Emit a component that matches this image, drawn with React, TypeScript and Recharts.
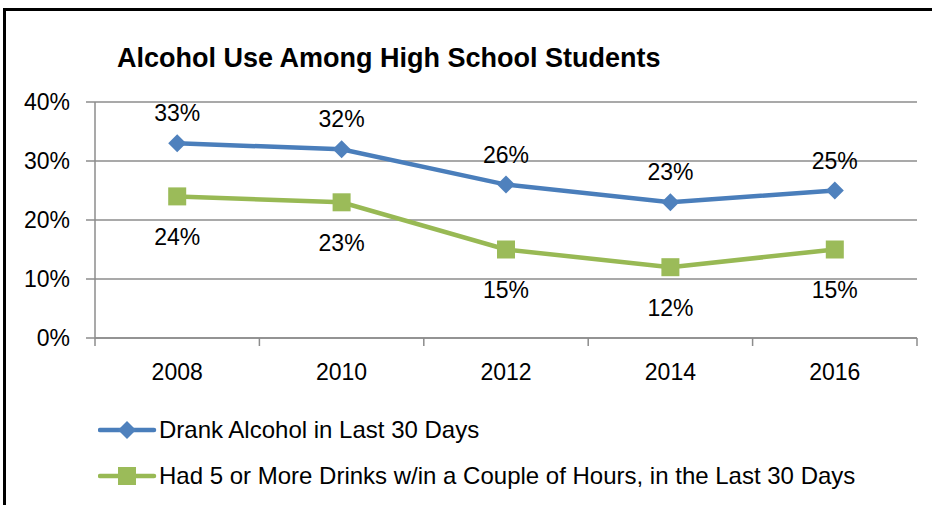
import React from 'react';
import { LineChart, Line, XAxis, YAxis, CartesianGrid, Legend, LabelList } from 'recharts';

const years = ['2008', '2010', '2012', '2014', '2016'];
const drankAlcohol = [0.33, 0.32, 0.26, 0.23, 0.25];
const fiveOrMore = [0.24, 0.23, 0.15, 0.12, 0.15];
const yTicks = [0, 0.1, 0.2, 0.3, 0.4];
const seriesNames = [
  'Drank Alcohol in Last 30 Days',
  'Had 5 or More Drinks w/in a Couple of Hours, in the Last 30 Days',
];

const data = years.map((year, i) => ({ year, drank: drankAlcohol[i], binge: fiveOrMore[i] }));

const FONT = '"Liberation Sans", Arial, sans-serif';
const GRID = '#8c8c8c';
const BLUE_LINE = '#4a7ebb';
const BLUE = '#4f81bd';
const GREEN_LINE = '#98b954';
const GREEN = '#9bbb59';

const pct = (v: number) => `${Math.round(v * 100)}%`;

function Diamond({ cx, cy, size = 9, fill }: any) {
  if (cx == null || cy == null) return null;
  return (
    <path
      d={`M${cx},${cy - size} L${cx + size},${cy} L${cx},${cy + size} L${cx - size},${cy} Z`}
      fill={fill}
    />
  );
}

function Square({ cx, cy, size = 9, fill }: any) {
  if (cx == null || cy == null) return null;
  return <rect x={cx - size} y={cy - size} width={size * 2} height={size * 2} fill={fill} />;
}

function YearTick(props: any) {
  const { x, y, payload, index, width, visibleTicksCount } = props;
  const band = width && visibleTicksCount ? width / visibleTicksCount : 164.4;
  const left = x - band / 2;
  const right = x + band / 2;
  return (
    <g>
      <line x1={left} y1={y} x2={left} y2={y + 8} stroke={GRID} strokeWidth={1.5} />
      {index === visibleTicksCount - 1 && (
        <line x1={right} y1={y} x2={right} y2={y + 8} stroke={GRID} strokeWidth={1.5} />
      )}
      <text x={x} y={y + 42} textAnchor="middle" fontSize={23} fontFamily={FONT} fill="#000">
        {payload.value}
      </text>
    </g>
  );
}

function LegendRows() {
  const rows = [
    { name: seriesNames[0], line: BLUE_LINE, color: BLUE, shape: 'diamond' },
    { name: seriesNames[1], line: GREEN_LINE, color: GREEN, shape: 'square' },
  ];
  return (
    <div style={{ fontFamily: FONT, fontSize: 24, color: '#000' }}>
      {rows.map((r) => (
        <div key={r.name} style={{ display: 'flex', alignItems: 'center', height: 46 }}>
          <svg width={60} height={24} style={{ marginRight: 1 }}>
            <line x1={2} y1={12} x2={56} y2={12} stroke={r.line} strokeWidth={4.5} strokeLinecap="round" />
            {r.shape === 'diamond' ? (
              <Diamond cx={29} cy={12} size={9} fill={r.color} />
            ) : (
              <Square cx={29} cy={12} size={9} fill={r.color} />
            )}
          </svg>
          <span style={{ whiteSpace: 'nowrap' }}>{r.name}</span>
        </div>
      ))}
    </div>
  );
}

export default function App() {
  return (
    <div
      style={{
        position: 'absolute',
        left: 0,
        top: 0,
        width: 932,
        height: 505,
        overflow: 'hidden',
        background: '#fff',
      }}
    >
      <div
        style={{
          position: 'absolute',
          left: 3,
          top: 8,
          width: 1000,
          height: 1000,
          border: '3px solid #000',
        }}
      />
      <div
        style={{
          position: 'absolute',
          left: 117,
          top: 40,
          fontFamily: FONT,
          fontWeight: 'bold',
          fontSize: 27,
          lineHeight: '36px',
          whiteSpace: 'nowrap',
          color: '#000',
        }}
      >
        Alcohol Use Among High School Students
      </div>
      <div style={{ position: 'absolute', left: 0, top: 0 }}>
        <LineChart
          width={932}
          height={505}
          data={data}
          margin={{ top: 102, right: 15, bottom: 107, left: 10 }}
        >
          <CartesianGrid horizontal vertical={false} stroke={GRID} strokeWidth={1.5} />
          <XAxis
            dataKey="year"
            scale="band"
            height={60}
            axisLine={{ stroke: GRID, strokeWidth: 1.5 }}
            tickLine={false}
            tickSize={0}
            tickMargin={0}
            tick={<YearTick />}
            interval={0}
          />
          <YAxis
            width={85}
            domain={[0, 0.4]}
            ticks={yTicks}
            tickFormatter={pct}
            axisLine={{ stroke: GRID, strokeWidth: 1.5 }}
            tickLine={{ stroke: GRID, strokeWidth: 1.5 }}
            tickSize={9}
            tickMargin={16}
            tick={{ fontSize: 23, fill: '#000', fontFamily: FONT }}
          />
          <Legend
            layout="horizontal"
            verticalAlign="middle"
            align="center"
            wrapperStyle={{ left: 98, top: 407, width: 800 }}
            content={<LegendRows />}
          />
          <Line
            name={seriesNames[0]}
            dataKey="drank"
            stroke={BLUE_LINE}
            strokeWidth={4.5}
            dot={(p: any) => <Diamond key={`d${p.index}`} cx={p.cx} cy={p.cy} size={9} fill={BLUE} />}
            activeDot={false}
            isAnimationActive={false}
          >
            <LabelList
              dataKey="drank"
              position="top"
              offset={22}
              formatter={(v: any) => pct(Number(v))}
              style={{ fontSize: 23, fill: '#000', fontFamily: FONT }}
            />
          </Line>
          <Line
            name={seriesNames[1]}
            dataKey="binge"
            stroke={GREEN_LINE}
            strokeWidth={4.5}
            dot={(p: any) => <Square key={`s${p.index}`} cx={p.cx} cy={p.cy} size={9} fill={GREEN} />}
            activeDot={false}
            isAnimationActive={false}
          >
            <LabelList
              dataKey="binge"
              position="bottom"
              offset={32}
              formatter={(v: any) => pct(Number(v))}
              style={{ fontSize: 23, fill: '#000', fontFamily: FONT }}
            />
          </Line>
        </LineChart>
      </div>
    </div>
  );
}
